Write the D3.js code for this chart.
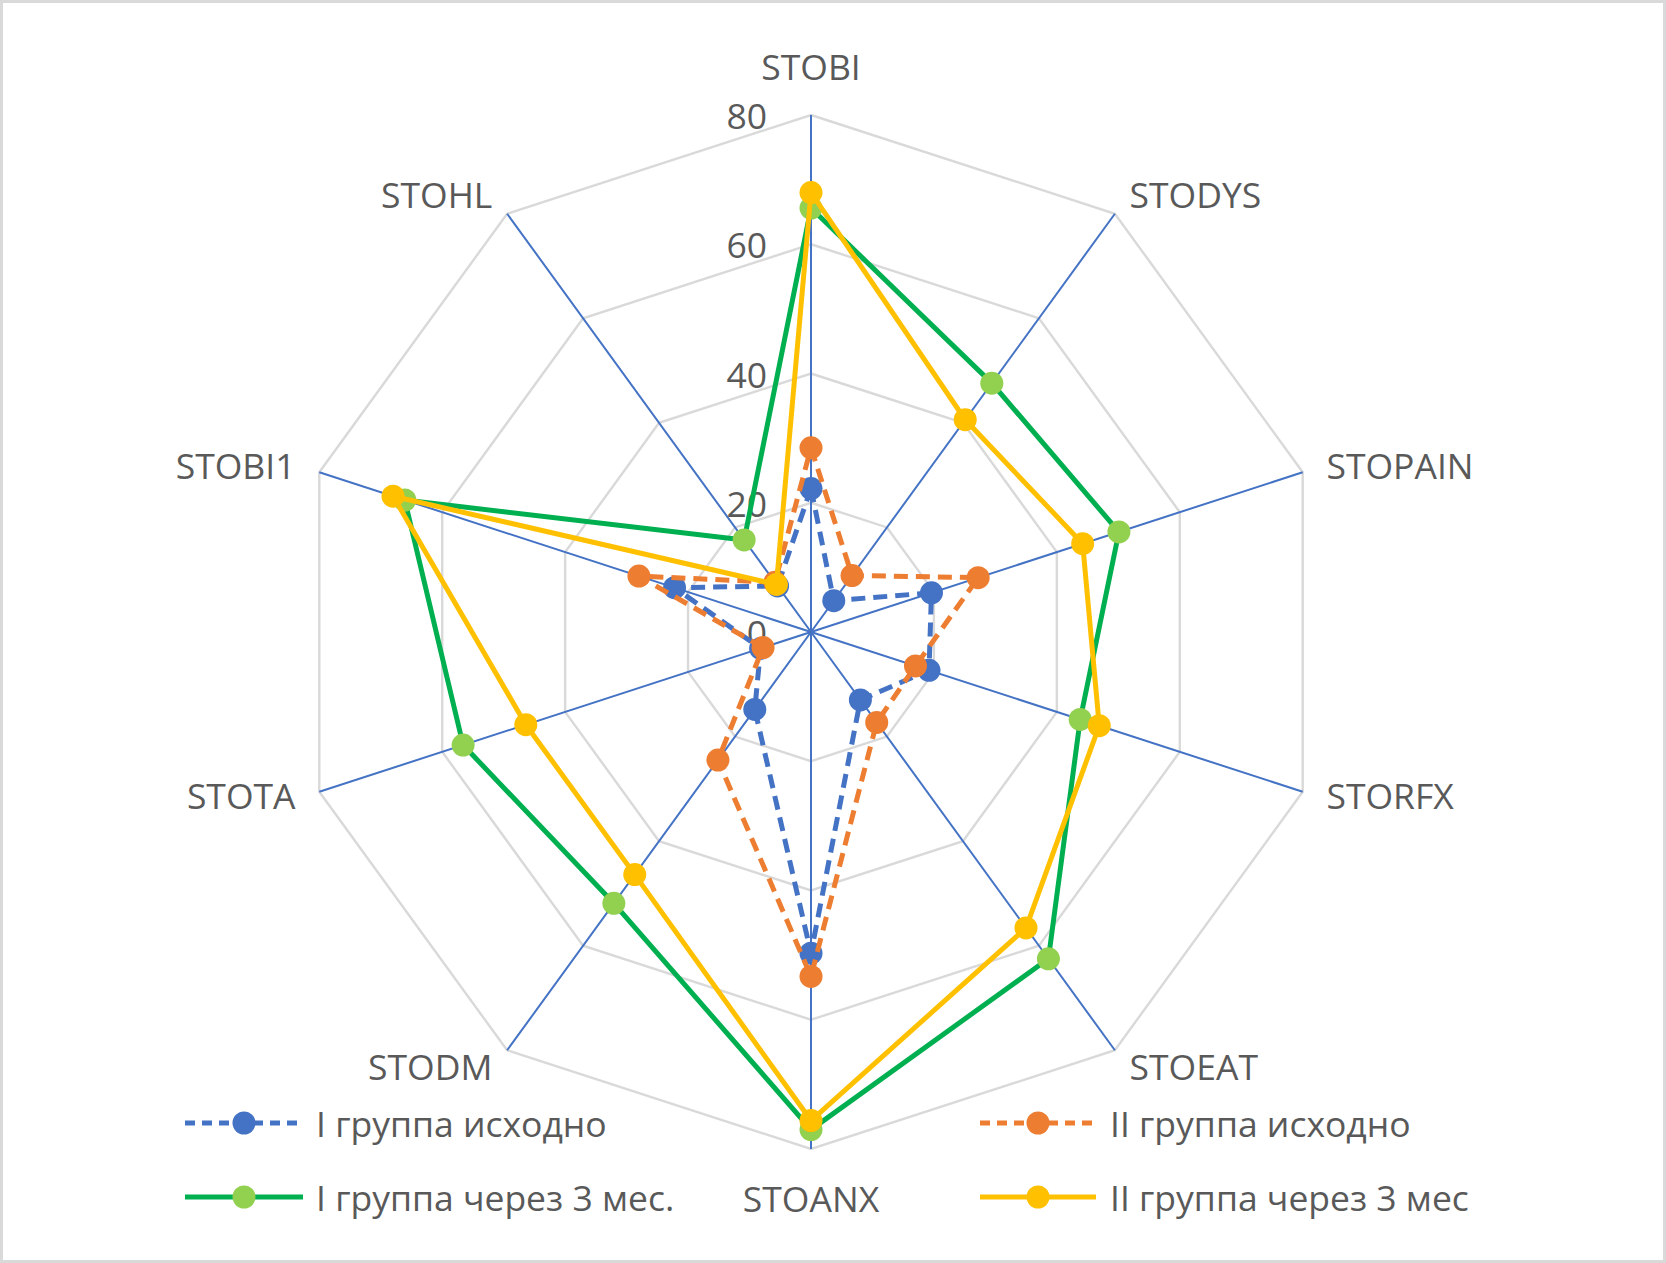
<!DOCTYPE html>
<html>
<head>
<meta charset="utf-8">
<script src="https://cdn.jsdelivr.net/npm/d3@7"></script>
<style>
html,body{margin:0;padding:0;background:#fff;}
svg{display:block;}
text{font-family:"Open Sans","Noto Sans",sans-serif;fill:#595959;}
</style>
</head>
<body>
<svg id="chart" width="1666" height="1263"></svg>
<script>
// ---- data ----
const categories = ["STOBI","STODYS","STOPAIN","STORFX","STOEAT","STOANX","STODM","STOTA","STOBI1","STOHL"];
const tickValues = [0, 20, 40, 60, 80];
const seriesNames = ["I группа исходно","II группа исходно","I группа через 3 мес.","II группа через 3 мес"];
const group1Base   = [22.2, 6.0, 19.6, 19.2, 13.0, 49.7, 14.8, 8.2, 22.2, 8.8];
const group2Base   = [28.5, 10.8, 27.2, 17.0, 17.3, 53.3, 24.5, 7.8, 28.0, 9.5];
const group1After3 = [65.6, 47.6, 50.1, 43.8, 62.5, 77.0, 51.9, 56.6, 66.1, 17.6];
const group2After3 = [68.0, 40.6, 44.2, 46.9, 56.6, 75.6, 46.4, 46.4, 68.0, 9.1];

const series = [
  {name: seriesNames[0], values: group1Base,   line: "#4472c4", fill: "#4472c4", dash: "14,8"},
  {name: seriesNames[1], values: group2Base,   line: "#ed7d31", fill: "#ed7d31", dash: "14,8"},
  {name: seriesNames[2], values: group1After3, line: "#00b050", fill: "#92d050", dash: null},
  {name: seriesNames[3], values: group2After3, line: "#ffc000", fill: "#ffc000", dash: null}
];

const W = 1666, H = 1263;
const cx = 811, cy = 632, R = 517;
const FS = 35.5;
const svg = d3.select("#chart");

svg.append("rect").attr("x",1.5).attr("y",1.5).attr("width",W-3).attr("height",H-3)
  .attr("fill","#fff").attr("stroke","#d9d9d9").attr("stroke-width",3);

const r = d3.scaleLinear().domain([0, 80]).range([0, R]);
const angle = d3.scaleLinear().domain([0, categories.length]).range([0, 2*Math.PI]);
const pt = (i, v) => [cx + r(v)*Math.sin(angle(i)), cy - r(v)*Math.cos(angle(i))];

const g = svg.append("g");

// grid rings
tickValues.filter(t => t > 0).forEach(t => {
  const pts = categories.map((c, i) => pt(i, t));
  g.append("polygon").attr("points", pts.map(p => p.join(",")).join(" "))
    .attr("fill","none").attr("stroke","#d9d9d9").attr("stroke-width",2.4);
});

// spokes
categories.forEach((c, i) => {
  const p = pt(i, 80);
  g.append("line").attr("x1",cx).attr("y1",cy).attr("x2",p[0]).attr("y2",p[1])
    .attr("stroke","#4472c4").attr("stroke-width",2);
});

// tick labels
tickValues.forEach(t => {
  g.append("text").attr("x", cx - 44).attr("y", cy - r(t))
    .attr("text-anchor","end").attr("dominant-baseline","central")
    .attr("font-size",FS).text(t);
});

// category labels
categories.forEach((c, i) => {
  const a = angle(i), s = Math.sin(a), co = Math.cos(a);
  const vertical = Math.abs(s) < 0.01;
  const d = vertical ? 49 : 25;
  const x = cx + (R + d)*s;
  let y = cy - (R + d)*co;
  if (!vertical && co < 0) y -= 4;
  g.append("text").attr("x", x).attr("y", y)
    .attr("text-anchor", vertical ? "middle" : (s > 0 ? "start" : "end"))
    .attr("dominant-baseline","central").attr("font-size",FS).text(c);
});

// series
const line = d3.line().curve(d3.curveLinearClosed);
series.forEach(s => {
  const pts = s.values.map((v, i) => pt(i, v));
  const sg = g.append("g");
  sg.append("path").attr("d", line(pts)).attr("fill","none")
    .attr("stroke", s.line).attr("stroke-width", 5)
    .attr("stroke-dasharray", s.dash).attr("stroke-linejoin","round");
  sg.selectAll("circle").data(pts).join("circle")
    .attr("cx", d => d[0]).attr("cy", d => d[1]).attr("r", 11.5)
    .attr("fill", s.fill);
});

// legend
const legendPos = [
  {x1:185, x2:303, mx:244, tx:316, y:1123},
  {x1:980, x2:1096, mx:1038, tx:1110, y:1123},
  {x1:185, x2:303, mx:244, tx:316, y:1197},
  {x1:980, x2:1096, mx:1038, tx:1110, y:1197}
];
series.forEach((s, i) => {
  const p = legendPos[i];
  const lg = svg.append("g");
  lg.append("line").attr("x1",p.x1).attr("x2",p.x2).attr("y1",p.y).attr("y2",p.y)
    .attr("stroke", s.line).attr("stroke-width", 5)
    .attr("stroke-dasharray", s.dash ? "10,7" : null);
  lg.append("circle").attr("cx",p.mx).attr("cy",p.y).attr("r",11.5).attr("fill",s.fill);
  lg.append("text").attr("x",p.tx).attr("y",p.y).attr("dominant-baseline","central")
    .attr("font-size",FS).text(s.name);
});
</script>
</body>
</html>
